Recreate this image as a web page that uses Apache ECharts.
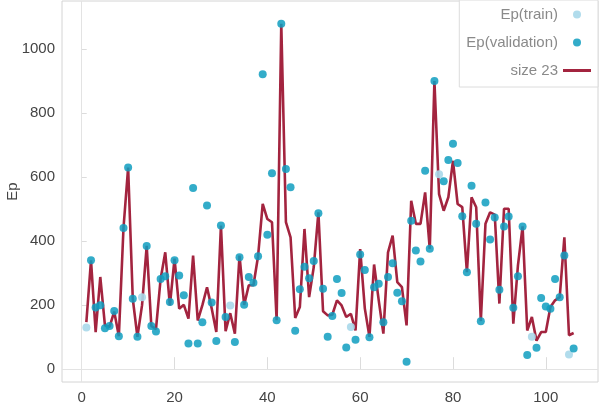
<!DOCTYPE html>
<html>
<head>
<meta charset="utf-8">
<script src="https://cdn.jsdelivr.net/npm/echarts@6/dist/echarts.min.js"></script>
<style>
  html, body { margin: 0; padding: 0; background: #fff; }
  #chart { width: 601px; height: 412px; }
</style>
</head>
<body>
<div id="chart"></div>
<script>
// Observed Ep values per sample (1..106) and the fitted "size 23" curve.
const epObserved = [
  130, 340, 193, 200, 128, 135, 182, 103, 441, 630,
  220, 101, 225, 385, 135, 118, 282, 290, 210, 340,
  293, 231, 80, 566, 80, 147, 511, 208, 88, 449,
  163, 199, 85, 350, 201, 288, 270, 353, 921, 420,
  612, 153, 1079, 625, 568, 120, 250, 320, 284, 338,
  487, 251, 101, 166, 282, 238, 68, 132, 92, 358,
  310, 100, 256, 267, 147, 288, 331, 239, 212, 23,
  464, 371, 336, 620, 376, 900, 609, 587, 653, 704,
  644, 478, 303, 573, 454, 150, 521, 405, 474, 248,
  446, 477, 192, 290, 446, 44, 101, 67, 222, 196,
  189, 282, 225, 355, 46, 65
];
const epFitSize23 = [
  147, 340, 116, 288, 137, 132, 180, 103, 441, 630,
  220, 101, 200, 385, 135, 125, 282, 365, 199, 345,
  189, 201, 158, 355, 152, 200, 256, 190, 116, 449,
  119, 175, 111, 355, 201, 262, 262, 353, 516, 469,
  459, 153, 1079, 459, 412, 160, 194, 438, 225, 319,
  490, 181, 168, 170, 215, 199, 163, 173, 121, 375,
  190, 101, 327, 215, 111, 365, 417, 272, 256, 137,
  526, 454, 454, 552, 376, 900, 547, 495, 537, 651,
  516, 506, 303, 537, 506, 150, 454, 490, 483, 205,
  501, 501, 142, 324, 446, 121, 163, 89, 116, 116,
  194, 215, 225, 412, 106, 113
];
// Sample numbers that belong to the training split; the rest are validation.
const trainSamples = [1, 13, 32, 58, 77, 97, 105];

const xTicks = [0, 20, 40, 60, 80, 100];
const yTicks = [0, 200, 400, 600, 800, 1000];

const trainPts = [], valPts = [], fitLine = [];
epObserved.forEach((v, i) => {
  const n = i + 1;
  (trainSamples.includes(n) ? trainPts : valPts).push([n, v]);
  fitLine.push([n, epFitSize23[i]]);
});

const font = "'Liberation Sans', Arial, sans-serif";
const plain = v => String(v);
const fitColor = '#a3243f';

const chart = echarts.init(document.getElementById('chart'), null, { renderer: 'canvas' });
chart.setOption({
  animation: false,
  backgroundColor: '#fff',
  grid: {
    left: 62, right: 3, top: 1, bottom: 30,
    outerBoundsMode: 'none', containLabel: false,
    show: true, borderColor: '#d4d4d4', borderWidth: 1, backgroundColor: 'transparent'
  },
  legend: {
    orient: 'vertical', right: 3, top: 0, align: 'right',
    backgroundColor: '#fff', borderColor: '#dcdcdc', borderWidth: 1,
    padding: [7, 7, 9, 7], itemGap: 13, itemWidth: 28, itemHeight: 8,
    textStyle: { fontFamily: font, fontSize: 15, color: '#8a8a8a' },
    data: [
      'Ep(train)',
      'Ep(validation)',
      { name: 'size 23', icon: 'path://M0,0H28V3H0Z', itemStyle: { color: fitColor } }
    ]
  },
  xAxis: {
    type: 'value', min: -4.25, max: 111.25,
    axisLine: { show: false },
    axisTick: { show: true, inside: true, length: 12, lineStyle: { color: '#dcdcdc' }, customValues: xTicks },
    axisLabel: { customValues: xTicks, formatter: plain, margin: 8, fontFamily: font, fontSize: 15, color: '#444' },
    splitLine: { show: false }
  },
  yAxis: {
    type: 'value', min: -40, max: 1150,
    name: 'Ep', nameLocation: 'middle', nameGap: 42, nameRotate: 90, nameMoveOverlap: false,
    nameTextStyle: { fontFamily: font, fontSize: 15, color: '#444' },
    axisLine: { show: false },
    axisTick: { show: true, inside: true, length: 5, lineStyle: { color: '#dcdcdc' }, customValues: yTicks },
    axisLabel: { customValues: yTicks, formatter: plain, margin: 7, fontFamily: font, fontSize: 15, color: '#444' },
    splitLine: { show: false }
  },
  series: [
    {
      name: 'size 23', type: 'line', data: fitLine, z: 2,
      symbol: 'none', lineStyle: { color: fitColor, width: 2.6 },
      itemStyle: { color: fitColor },
      markLine: {
        silent: true, symbol: ['none', 'none'], label: { show: false },
        lineStyle: { color: '#e3e3e3', type: 'solid', width: 1 },
        data: [{ xAxis: 0 }, { yAxis: 0 }]
      }
    },
    {
      name: 'Ep(train)', type: 'scatter', data: trainPts, z: 3,
      symbolSize: 8, itemStyle: { color: '#a8d8ea', opacity: 0.9 }
    },
    {
      name: 'Ep(validation)', type: 'scatter', data: valPts, z: 3,
      symbolSize: 8, itemStyle: { color: '#0f9dbf', opacity: 0.85 }
    }
  ]
});
</script>
</body>
</html>
